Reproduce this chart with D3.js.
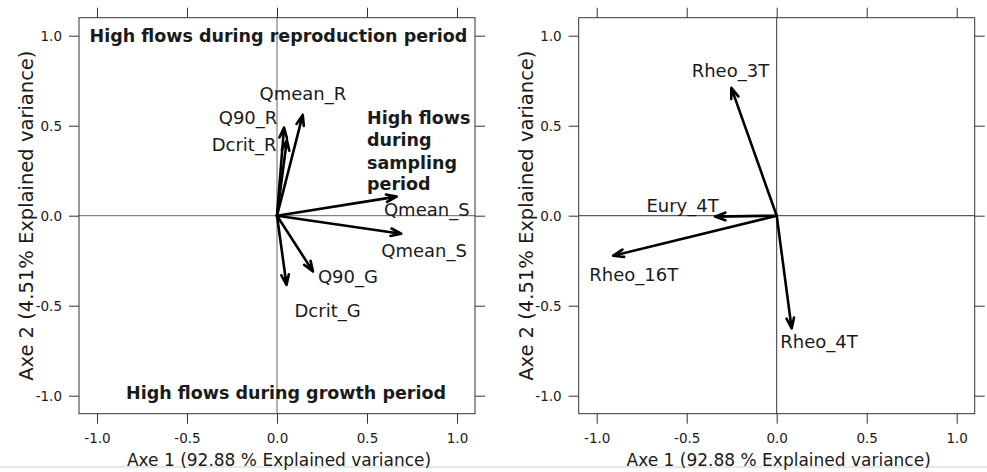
<!DOCTYPE html>
<html>
<head>
<meta charset="utf-8">
<script src="https://cdn.jsdelivr.net/npm/d3@7"></script>
<style>
  html, body { margin: 0; padding: 0; background: #fff; }
  svg { display: block; }
  text { font-family: "DejaVu Sans", Verdana, sans-serif; fill: #1a1a1a; }
</style>
</head>
<body>
<svg id="chart" width="987" height="472"></svg>
<script>
// ---------- data ----------
const tickValues = [-1, -0.5, 0, 0.5, 1];
const tickLabels = ["-1.0", "-0.5", "0.0", "0.5", "1.0"];
const xTitle = "Axe 1 (92.88 % Explained variance)";
const yTitle = "Axe 2 (4.51% Explained variance)";

// Left panel: flow variables
const flowVars   = ["Qmean_R", "Q90_R", "Dcrit_R", "Qmean_S", "Qmean_S", "Q90_G", "Dcrit_G"];
const flowX      = [0.143, 0.039, 0.055, 0.665, 0.690, 0.200, 0.053];
const flowY      = [0.560, 0.490, 0.420, 0.106, -0.100, -0.310, -0.385];
const flowLabelX = [0.144, -0.161, -0.183, 0.832, 0.817, 0.394, 0.281];
const flowLabelY = [0.681, 0.543, 0.393, 0.032, -0.191, -0.339, -0.529];

// Left panel: bold annotations
const annoText = ["High flows during reproduction period", "High flows during growth period"];
const annoX    = [0.008, 0.050];
const annoY    = [1.001, -0.985];
const sampLines = ["High flows", "during", "sampling", "period"];
const sampX     = 0.50;
const sampY     = [0.543, 0.421, 0.293, 0.176];

// Right panel: species traits
const traitVars   = ["Rheo_3T", "Eury_4T", "Rheo_16T", "Rheo_4T"];
const traitX      = [-0.252, -0.343, -0.908, 0.083];
const traitY      = [0.710, -0.005, -0.222, -0.626];
const traitLabelX = [-0.257, -0.523, -0.794, 0.235];
const traitLabelY = [0.809, 0.059, -0.329, -0.700];

// ---------- drawing ----------
const svg = d3.select("#chart");
svg.append("rect").attr("width", 987).attr("height", 472).attr("fill", "#fff");

const domain = [-1.1, 1.1];
const panelTop = 17.7, size = 396;

function panel(left, vars, vx, vy, lx, ly, zeroColor) {
  const x = d3.scaleLinear().domain(domain).range([left, left + size]);
  const y = d3.scaleLinear().domain(domain).range([panelTop + size, panelTop]);
  const g = svg.append("g");
  const fmt = (d) => tickLabels[tickValues.indexOf(d)];

  const axStyle = (sel) => {
    sel.select(".domain").remove();
    sel.selectAll(".tick line").attr("stroke", "#333").attr("stroke-width", 1);
    sel.selectAll(".tick text").style("font-family", "'DejaVu Sans', sans-serif")
       .style("font-size", "13.5px").attr("fill", "#222");
  };
  g.append("g").attr("transform", `translate(0,${panelTop + size})`)
    .call(d3.axisBottom(x).tickValues(tickValues).tickFormat(fmt).tickSize(10).tickPadding(9.5)).call(axStyle);
  g.append("g").attr("transform", `translate(0,${panelTop})`)
    .call(d3.axisTop(x).tickValues(tickValues).tickFormat("").tickSize(10)).call(axStyle);
  g.append("g").attr("transform", `translate(${left},0)`)
    .call(d3.axisLeft(y).tickValues(tickValues).tickFormat(fmt).tickSize(10).tickPadding(7)).call(axStyle);
  g.append("g").attr("transform", `translate(${left + size},0)`)
    .call(d3.axisRight(y).tickValues(tickValues).tickFormat("").tickSize(10)).call(axStyle);

  // zero lines
  g.append("line").attr("x1", x(0)).attr("x2", x(0)).attr("y1", panelTop).attr("y2", panelTop + size)
    .attr("stroke", zeroColor).attr("stroke-width", 1);
  g.append("line").attr("x1", left).attr("x2", left + size).attr("y1", y(0)).attr("y2", y(0))
    .attr("stroke", zeroColor).attr("stroke-width", 1);

  // box
  g.append("rect").attr("x", left).attr("y", panelTop).attr("width", size).attr("height", size)
    .attr("fill", "none").attr("stroke", "#333").attr("stroke-width", 1);

  // arrows
  const headLen = 11, headAng = 20 * Math.PI / 180;
  vars.forEach((name, i) => {
    const x0 = x(0), y0 = y(0), x1 = x(vx[i]), y1 = y(vy[i]);
    const a = Math.atan2(y1 - y0, x1 - x0);
    const p1 = [x1 - headLen * Math.cos(a - headAng), y1 - headLen * Math.sin(a - headAng)];
    const p2 = [x1 - headLen * Math.cos(a + headAng), y1 - headLen * Math.sin(a + headAng)];
    g.append("path")
      .attr("d", `M${x0},${y0}L${x1},${y1}M${p1[0]},${p1[1]}L${x1},${y1}L${p2[0]},${p2[1]}`)
      .attr("fill", "none").attr("stroke", "#000").attr("stroke-width", 2.6)
      .attr("stroke-linecap", "round").attr("stroke-linejoin", "round");
  });
  vars.forEach((name, i) => {
    g.append("text").attr("x", x(lx[i])).attr("y", y(ly[i]))
      .attr("text-anchor", "middle").attr("dominant-baseline", "central")
      .style("font-size", "18px").text(name);
  });

  // axis titles
  g.append("text").attr("x", left + size / 2 + 2).attr("y", 466)
    .attr("text-anchor", "middle").style("font-size", "17px").text(xTitle);
  g.append("text").attr("transform", `translate(${left - 46},${panelTop + size / 2}) rotate(-90)`)
    .attr("text-anchor", "middle").style("font-size", "19.5px").text(yTitle);

  return { g, x, y };
}

const P1 = panel(79, flowVars, flowX, flowY, flowLabelX, flowLabelY, "#666");
annoText.forEach((t, i) => {
  P1.g.append("text").attr("x", P1.x(annoX[i])).attr("y", P1.y(annoY[i]))
    .attr("text-anchor", "middle").attr("dominant-baseline", "central")
    .style("font-size", "17.5px").style("font-weight", "bold").text(t);
});
sampLines.forEach((t, i) => {
  P1.g.append("text").attr("x", P1.x(sampX)).attr("y", P1.y(sampY[i]))
    .attr("text-anchor", "start").attr("dominant-baseline", "central")
    .style("font-size", "17.5px").style("font-weight", "bold").text(t);
});

panel(578.7, traitVars, traitX, traitY, traitLabelX, traitLabelY, "#333");

// thin light separator near the bottom edge
svg.insert("line", "g").attr("x1", 0).attr("x2", 987).attr("y1", 467).attr("y2", 467)
  .attr("stroke", "#d0d0d0").attr("stroke-width", 1);
</script>
</body>
</html>
